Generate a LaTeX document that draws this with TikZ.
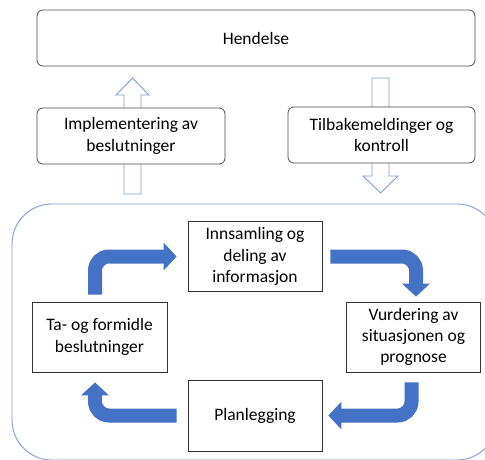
\documentclass[tikz,border=0pt]{standalone}
\usepackage{fontspec}
\setmainfont{Carlito}
\usetikzlibrary{arrows.meta}
\definecolor{flowblue}{HTML}{4472C4}
\definecolor{frameblue}{HTML}{7F9FD3}
\begin{document}
\begin{tikzpicture}[x=1pt, y=-1pt,
    every node/.style={font=\fontsize{17.5}{21.3}\selectfont, align=center, inner sep=0pt},
    roundbox/.style={draw=black!70, line width=0.8pt, rounded corners=6pt, fill=white},
    stepbox/.style={draw=black!80, line width=0.7pt, fill=white, minimum width=134pt, minimum height=70pt},
    hollow/.style={draw=frameblue, line width=0.9pt, fill=white},
    flow/.style={draw=flowblue, line width=14pt, rounded corners=14pt,
        -{Triangle[width=27pt, length=13pt]}}]
                    \useasboundingbox (0,0) rectangle (485,459);

                    % Outer frame
                    \draw[frameblue, line width=0.9pt, rounded corners=40pt] (12,204) rectangle (497,460);

                    % Hollow arrows
                    \coordinate (upbot) at (132.5,194);
                    \coordinate (downtop) at (380.5,78);
                    \draw[hollow] (upbot) ++(-8.5,0) -- ++(0,-99) -- ++(-8,0) -- ++(16.5,-17)
                        -- ++(16.5,17) -- ++(-8,0) -- ++(0,99) -- cycle;
                    \draw[hollow] (downtop) ++(-8.5,0) -- ++(0,98) -- ++(-9,0) -- ++(17.5,17)
                        -- ++(17.5,-17) -- ++(-9,0) -- ++(0,-98) -- cycle;

                    % Top boxes
                    \node[roundbox, minimum width=438pt, minimum height=56pt] (hend) at (256,38) {Hendelse};
                    \node[roundbox, minimum width=188pt, minimum height=56pt] (impl) at (131,136) {Implementering av\\beslutninger};
                    \node[roundbox, minimum width=187pt, minimum height=56pt] (tilb) at (381.5,135) {Tilbakemeldinger og\\kontroll};

                    % Cycle
                    \node[stepbox] (inns) at (255,256.5) {Innsamling og\\deling av\\informasjon};
                    \node[stepbox] (vurd) at (413.5,337) {Vurdering av\\situasjonen og\\prognose};
                    \node[stepbox, minimum height=71pt] (plan) at (255,415.5) {Planlegging};
                    \node[stepbox, minimum width=135pt] (ta) at (99.5,337) {Ta- og formidle\\beslutninger};

                    \draw[flow] ([xshift=-4.5pt, yshift=7pt]ta.north) |- ([xshift=-11pt]inns.west);
                    \draw[flow] ([xshift=8pt]inns.east) -| ([xshift=2.5pt, yshift=5pt]vurd.north);
                    \draw[flow] ([xshift=-2pt, yshift=-10pt]vurd.south) |- ([xshift=6pt]plan.east);
                    \draw[flow] ([xshift=-11pt]plan.west) -| ([xshift=-4.5pt, yshift=-10pt]ta.south);
\end{tikzpicture}
\end{document}
